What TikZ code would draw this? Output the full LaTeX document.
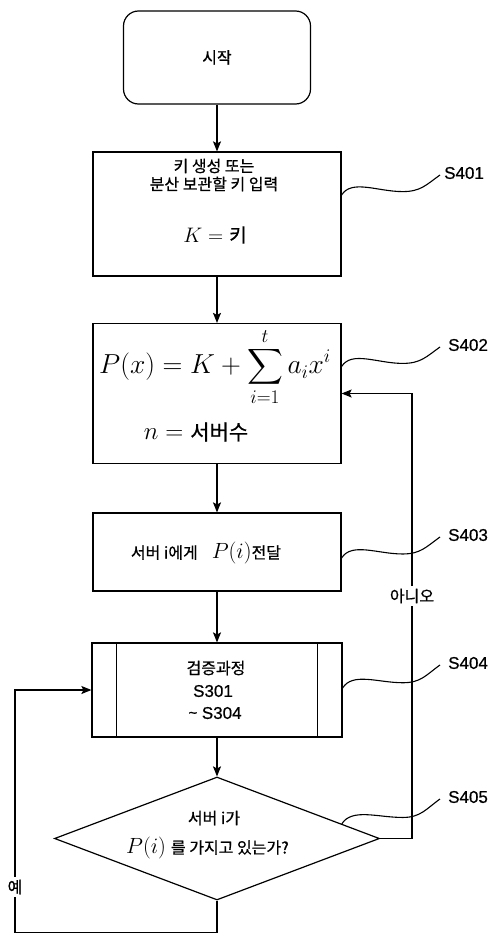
\RequirePackage{fix-cm}
\documentclass[tikz,border=0pt]{standalone}
\usepackage{exscale}
\usepackage[no-math]{fontspec}
\setmainfont{Liberation Sans}[FakeBold=0.6]
\newfontfamily\kr{Noto Sans CJK KR}[FakeBold=0.8]
\usetikzlibrary{shapes.geometric,arrows.meta,calc}
\newcommand\leadr[2]{\draw[leader] (#1) .. controls +(10,-16) and +(-25,0) .. ($(#1)!0.62!(#2)+(0,9)$) .. controls +(18,0) and +(-14,10) .. (#2);}
\begin{document}
\begin{tikzpicture}[x=1pt,y=-1pt,
  box/.style={draw, line width=1.2pt, inner sep=0pt},
  arr/.style={line width=1.2pt, -{Stealth[length=10pt,width=8pt,inset=2pt]}},
  ln/.style={line width=1.2pt},
  leader/.style={line width=1.1pt},
  kt/.style={font=\kr\fontsize{16}{19}\selectfont, inner sep=0pt},
  st/.style={font=\fontsize{17}{20}\selectfont, inner sep=0pt},
]
\useasboundingbox (0,0) rectangle (496,934);
% boxes
\node[box, rounded corners=15pt, minimum width=187pt, minimum height=93pt, kt] (st) at (217,57.5) {시작};
\node[box, minimum width=248pt, minimum height=124pt] (b1) at (217,214) {};
\node[kt] (t1a) at (214,166) {키 생성 또는};
\node[kt] (t1b) at (214,184) {분산 보관할 키 입력};
\node[inner sep=0pt] (t1c) at (215,235) {{\fontsize{21}{24}\selectfont $K={}$}{\kr\fontsize{19}{22}\selectfont 키}};

\node[box, minimum width=248pt, minimum height=140pt] (b2) at (217,393.5) {};
\node[inner sep=0pt, font=\fontsize{27.5}{32}\selectfont] (t2a) at (215,367) {$\displaystyle P(x)=K+\sum_{i=1}^{t}a_ix^i$};
\node[inner sep=0pt] (t2b) at (196,432) {{\fontsize{25}{29}\selectfont $n={}$}{\kr\fontsize{21}{25}\selectfont 서버수}};

\node[box, minimum width=248pt, minimum height=78pt] (b3) at (217,552) {};
\node[inner sep=0pt] (t3) at (206,553) {{\kr\fontsize{16}{19}\selectfont 서버 i에게}\hspace{14pt}{\fontsize{22}{26}\selectfont$P(i)$}{\kr\fontsize{16}{19}\selectfont 전달}};

\node[box, minimum width=250pt, minimum height=94pt] (b4) at (217,690) {};
\draw[ln] ($(b4.north west)+(25,0)$) -- ($(b4.south west)+(25,0)$);
\draw[ln] ($(b4.north east)+(-25,0)$) -- ($(b4.south east)+(-25,0)$);
\node[kt] (t4a) at (216,668) {검증과정};
\node[st] (t4b) at (213,691) {S301};
\node[st] (t4c) at (215,713) {\raisebox{1pt}{\fontsize{15}{17}\selectfont\~{}} S304};

\node[draw, diamond, line width=1.2pt, minimum width=325pt, minimum height=123pt, inner sep=0pt] (d) at (217,838.5) {};
\node[kt] (t5a) at (214,818) {서버 i가};
\node[inner sep=0pt] (t5b) at (207.5,848) {{\fontsize{22}{26}\selectfont$P(i)$}\hspace{5pt}{\kr\fontsize{16}{19}\selectfont 를 가지고 있는가?}};

% connectors
\draw[arr] (st.south) -- (b1.north);
\draw[arr] (b1.south) -- (b2.north);
\draw[arr] (b2.south) -- (b3.north);
\draw[arr] (b3.south) -- (b4.north);
\draw[arr] (b4.south) -- (d.north);
\coordinate (nx) at (412,0);
\draw[arr] (d.east) -| (nx |- b2.east) -- (b2.east);
\node[kt, fill=white, inner sep=3pt] (no) at (412,596) {아니오};
\coordinate (lx) at (15,0);
\draw[arr] (d.south) -- ++(0,32) -| (lx |- b4.west) -- (b4.west);
\node[kt, fill=white, inner sep=3pt] (yes) at (15,887) {예};

% step labels
\node[st, anchor=west] (l1) at (444,173) {S401};
\node[st, anchor=west] (l2) at (448,345) {S402};
\node[st, anchor=west] (l3) at (448,535) {S403};
\node[st, anchor=west] (l4) at (448,663) {S404};
\node[st, anchor=west] (l5) at (448,797) {S405};
\coordinate (s1) at ($(b1.east)+(0,-19)$);
\coordinate (s2) at ($(b2.east)+(0,-27)$);
\coordinate (s3) at ($(b3.east)+(0,6)$);
\coordinate (s4) at ($(b4.east)+(0,-2)$);
\coordinate (s5) at ($(d.north)!0.765!(d.east)$);
\coordinate (e1) at ($(l1.west)+(-4,2)$);
\coordinate (e2) at ($(l2.west)+(-8,2)$);
\coordinate (e3) at ($(l3.west)+(-8,2)$);
\coordinate (e4) at ($(l4.west)+(-8,2)$);
\coordinate (e5) at ($(l5.west)+(-8,2)$);
\leadr{s1}{e1}
\leadr{s2}{e2}
\leadr{s3}{e3}
\leadr{s4}{e4}
\leadr{s5}{e5}
\end{tikzpicture}
\end{document}
